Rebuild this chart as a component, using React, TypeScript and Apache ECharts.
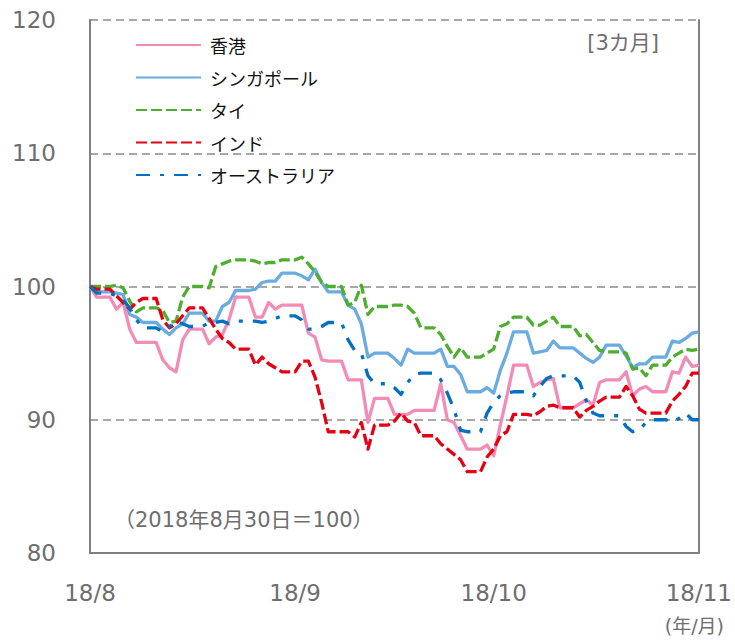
import React, { useEffect, useRef } from "react";
import * as echarts from "echarts";

// Calendar days from 2018-08-30 to 2018-11-30 (weekends carry Friday's value)
const startDate = "2018-08-30";
const dayCount = 93;

const tickDates = ["2018-08-30", "2018-09-30", "2018-10-30", "2018-11-30"];
const tickLabels = ["18/8", "18/9", "18/10", "18/11"];

const seriesNames = ["香港", "シンガポール", "タイ", "インド", "オーストラリア"];

const hongKong = [
  100,
  99.2, 99.2, 99.2,
  98.3, 98.8, 96.8, 95.8, 95.8, 95.8, 95.8,
  94.5, 93.9, 93.6, 96.0, 96.8, 96.8, 96.8,
  95.7, 96.2, 96.4, 97.5, 99.2, 99.2, 99.2,
  97.7, 97.7, 98.8, 98.3, 98.6, 98.6, 98.6,
  98.6, 96.5, 96.2, 94.5, 94.4, 94.4, 94.4,
  93.0, 93.0, 93.0, 89.8, 91.6, 91.6, 91.6,
  90.4, 90.4, 90.4, 90.7, 90.7, 90.7, 90.7,
  92.7, 90.0, 89.8, 88.8, 87.8, 87.8, 87.8,
  88.1, 87.3, 89.6, 91.8, 94.1, 94.1, 94.1,
  92.5, 92.8, 93.0, 93.1, 90.9, 90.9, 90.9,
  91.2, 91.5, 91.1, 92.8, 93.0, 93.0, 93.0,
  93.6, 91.8, 92.3, 92.5, 92.1, 92.1, 92.1,
  93.6, 93.5, 94.7, 94.0, 94.1,
];

const singapore = [
  100,
  99.6, 99.6, 99.6,
  99.5, 99.4, 97.9, 97.7, 97.3, 97.3, 97.3,
  96.8, 96.4, 96.9, 97.2, 98.0, 98.0, 98.0,
  97.4, 97.4, 98.5, 98.8, 99.7, 99.7, 99.7,
  99.8, 100.3, 100.4, 100.4, 101.0, 101.0, 101.0,
  100.8, 100.5, 101.3, 100.3, 99.6, 99.6, 99.6,
  98.6, 98.3, 97.2, 94.7, 95.0, 95.0, 95.0,
  94.6, 94.1, 95.3, 95.0, 95.0, 95.0, 95.0,
  95.3, 94.0, 94.0, 93.4, 92.1, 92.1, 92.1,
  92.4, 92.0, 93.7, 95.0, 96.6, 96.6, 96.6,
  95.0, 95.1, 95.2, 95.9, 95.4, 95.4, 95.4,
  95.0, 94.6, 94.3, 94.7, 95.6, 95.6, 95.6,
  94.8, 93.9, 94.2, 94.2, 94.7, 94.7, 94.7,
  95.9, 95.8, 96.1, 96.5, 96.6,
];

const thailand = [
  100,
  100.0, 100.0, 100.0,
  100.1, 99.9, 98.9, 98.1, 98.4, 98.4, 98.4,
  98.2, 97.3, 97.4, 99.2, 100.0, 100.0, 100.0,
  99.9, 101.5, 101.7, 101.9, 102.0, 102.0, 102.0,
  101.9, 101.7, 101.8, 101.8, 102.0, 102.0, 102.0,
  102.2, 101.7, 101.1, 100.3, 100.0, 100.0, 100.0,
  98.6, 98.8, 100.1, 97.9, 98.5, 98.5, 98.5,
  98.6, 98.6, 98.5, 98.0, 96.9, 96.9, 96.9,
  96.4, 95.5, 94.7, 95.4, 94.7, 94.7, 94.7,
  95.0, 95.3, 97.0, 97.2, 97.7, 97.7, 97.7,
  97.1, 97.1, 97.4, 97.7, 97.0, 97.0, 97.0,
  96.3, 96.4, 95.8, 95.2, 95.1, 95.1, 95.1,
  95.0, 93.8, 93.9, 93.3, 94.1, 94.1, 94.1,
  94.7, 95.0, 95.3, 95.2, 95.3,
];

const india = [
  100,
  99.8, 99.8, 99.8,
  99.3, 98.8, 98.3, 98.8, 99.1, 99.1, 99.1,
  97.5, 96.9, 97.2, 97.8, 98.4, 98.4, 98.4,
  97.6, 96.8, 96.1, 95.8, 95.3, 95.3, 95.3,
  94.1, 94.7, 94.2, 93.9, 93.6, 93.6, 93.6,
  94.4, 94.4, 93.2, 91.3, 89.1, 89.1, 89.1,
  89.1, 88.7, 89.8, 87.8, 89.6, 89.6, 89.6,
  89.9, 90.5, 89.9, 89.8, 88.8, 88.8, 88.8,
  88.2, 87.8, 87.4, 87.0, 86.1, 86.1, 86.1,
  87.2, 87.8, 88.8, 89.1, 90.4, 90.4, 90.4,
  90.3, 90.6, 91.0, 91.1, 90.9, 90.9, 90.9,
  90.2, 90.7, 91.0, 91.4, 91.7, 91.7, 91.7,
  92.5, 91.8, 90.8, 90.5, 90.5, 90.5, 90.5,
  91.4, 91.9, 92.5, 93.5, 93.5,
];

const australia = [
  100,
  99.5, 99.5, 99.5,
  99.3, 99.0, 98.4, 97.5, 96.9, 96.9, 96.9,
  96.6, 97.0, 97.4, 97.2, 97.0, 97.0, 97.0,
  97.3, 97.3, 97.4, 97.2, 97.4, 97.4, 97.4,
  97.4, 97.3, 97.4, 97.6, 97.8, 97.8, 97.8,
  97.5, 96.8, 96.8, 97.0, 97.3, 97.3, 97.3,
  96.0, 95.2, 95.0, 93.3, 92.7, 92.7, 92.7,
  92.4, 91.9, 92.8, 93.4, 93.5, 93.5, 93.5,
  93.0, 92.0, 90.8, 89.2, 89.1, 89.1, 89.1,
  90.5, 91.3, 91.8, 92.0, 92.1, 92.1, 92.1,
  91.8, 92.5, 93.1, 93.3, 93.3, 93.3, 93.3,
  92.8, 91.4, 90.5, 90.3, 90.3, 90.3, 90.3,
  89.5, 89.1, 89.2, 89.8, 90.0, 90.0, 90.0,
  89.8, 90.1, 90.5, 90.0, 90.0,
];

const yTicks = { min: 80, max: 120, interval: 10 };

function buildDates(): string[] {
  const out: string[] = [];
  const base = new Date(startDate + "T00:00:00Z").getTime();
  for (let i = 0; i < dayCount; i++) {
    out.push(new Date(base + i * 86400000).toISOString().slice(0, 10));
  }
  return out;
}

const FONT = "'DejaVu Sans', 'Noto Sans CJK JP', sans-serif";
const JP_FONT = "'Noto Sans CJK JP', sans-serif";
const AXIS_GRAY = "#6e6e6e";
const LINE_GRAY = "#808080";

export default function App() {
  const ref = useRef<HTMLDivElement>(null);

  useEffect(() => {
    if (!ref.current) return;
    const chart = echarts.init(ref.current, undefined, { renderer: "svg" });
    const dates = buildDates();

    const mk = (name: string, data: number[], color: string, dash: any) => ({
      name,
      type: "line",
      data,
      symbol: "none",
      smooth: false,
      lineStyle: { color, width: 3.3, type: dash, cap: "butt", join: "round" },
      itemStyle: { color },
      z: 2,
    });

    chart.setOption({
      animation: false,
      backgroundColor: "#ffffff",
      grid: { left: 90, right: 35, top: 20, bottom: 89, containLabel: false },
      legend: {
        orient: "vertical",
        left: 135,
        top: 34,
        padding: 0,
        itemWidth: 65,
        itemHeight: 14,
        itemGap: 10.5,
        data: seriesNames,
        itemStyle: { opacity: 0 },
        textStyle: {
          fontFamily: JP_FONT,
          fontSize: 18,
          lineHeight: 22,
          color: "#111111",
          padding: [0, 0, 0, 4],
        },
      },
      xAxis: {
        type: "category",
        data: dates,
        boundaryGap: false,
        axisLine: { show: true, lineStyle: { color: LINE_GRAY, width: 2 } },
        axisTick: { show: false },
        splitLine: { show: false },
        axisLabel: {
          interval: (_i: number, v: string) => tickDates.includes(v),
          formatter: (v: string) => {
            const k = tickDates.indexOf(v);
            return k >= 0 ? tickLabels[k] : "";
          },
          showMinLabel: true,
          showMaxLabel: true,
          hideOverlap: false,
          fontFamily: FONT,
          fontSize: 23,
          color: AXIS_GRAY,
          margin: 28,
        },
      },
      yAxis: [
        {
          type: "value",
          min: yTicks.min,
          max: yTicks.max,
          interval: yTicks.interval,
          axisLine: { show: true, lineStyle: { color: LINE_GRAY, width: 2 } },
          axisTick: { show: false },
          axisLabel: {
            fontFamily: FONT,
            fontSize: 23,
            color: AXIS_GRAY,
            margin: 34,
          },
          splitLine: {
            show: true,
            lineStyle: { color: "#8c8c8c", width: 1.6, type: [8, 5] },
          },
        },
        {
          type: "value",
          position: "right",
          min: yTicks.min,
          max: yTicks.max,
          interval: yTicks.interval,
          axisLine: { show: true, lineStyle: { color: LINE_GRAY, width: 2 } },
          axisTick: { show: false },
          axisLabel: { show: false },
          splitLine: { show: false },
        },
      ],
      series: [
        mk(seriesNames[0], hongKong, "#F28CB7", "solid"),
        mk(seriesNames[1], singapore, "#6AACE0", "solid"),
        mk(seriesNames[2], thailand, "#4DAE30", [11, 4]),
        mk(seriesNames[3], india, "#E60012", [11, 4]),
        mk(seriesNames[4], australia, "#0070C0", [14, 10, 4, 10]),
      ],
      graphic: [
        {
          type: "text",
          right: 735 - 659,
          top: 32,
          style: {
            text: "[3カ月]",
            font: `21px ${FONT}`,
            fill: AXIS_GRAY,
          },
        },
        {
          type: "text",
          left: 114,
          top: 509,
          style: {
            text: "（2018年8月30日＝100）",
            font: `21px ${FONT}`,
            fill: AXIS_GRAY,
          },
        },
        {
          type: "text",
          right: 735 - 724,
          top: 616,
          style: {
            text: "(年/月)",
            font: `19px ${FONT}`,
            fill: AXIS_GRAY,
          },
        },
      ],
    });

    return () => chart.dispose();
  }, []);

  return (
    <div
      ref={ref}
      style={{ position: "fixed", left: 0, top: 0, width: 735, height: 642, background: "#fff" }}
    />
  );
}
